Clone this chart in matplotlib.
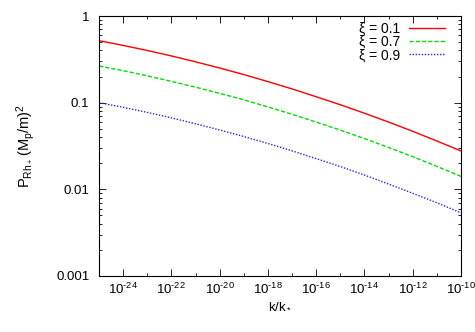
import numpy as np
import matplotlib
matplotlib.use("Agg")
import matplotlib.pyplot as plt
from matplotlib.ticker import FixedLocator, FixedFormatter, NullFormatter

plt.rcParams['font.family'] = ['Liberation Sans', 'DejaVu Sans']
plt.rcParams['mathtext.fontset'] = 'custom'
plt.rcParams['mathtext.rm'] = 'Liberation Sans'
plt.rcParams['mathtext.it'] = 'Liberation Sans'
plt.rcParams['font.size'] = 9

# k/k* sampled once per decade (1e-25 ... 1e-10)
k = [1e-25, 1e-24, 1e-23, 1e-22, 1e-21, 1e-20, 1e-19, 1e-18,
     1e-17, 1e-16, 1e-15, 1e-14, 1e-13, 1e-12, 1e-11, 1e-10]

# spectra
p_xi01 = [0.519, 0.458, 0.400, 0.346, 0.296, 0.251, 0.211, 0.175,
          0.144, 0.117, 0.0946, 0.0755, 0.0597, 0.0467, 0.0361, 0.0277]
p_xi07 = [0.265, 0.234, 0.204, 0.176, 0.151, 0.128, 0.108, 0.0893,
          0.0734, 0.0597, 0.0482, 0.0385, 0.0304, 0.0238, 0.0184, 0.0141]
p_xi09 = [0.100, 0.0884, 0.0772, 0.0668, 0.0571, 0.0484, 0.0407, 0.0338,
          0.0278, 0.0226, 0.0183, 0.0146, 0.0115, 0.0090, 0.0070, 0.00535]

labels = ['ξ = 0.1', 'ξ = 0.7', 'ξ = 0.9']

xticks = [1e-24, 1e-22, 1e-20, 1e-18, 1e-16, 1e-14, 1e-12, 1e-10]
xticklabels = [r'10$^{\text{-24}}$', r'10$^{\text{-22}}$', r'10$^{\text{-20}}$',
               r'10$^{\text{-18}}$', r'10$^{\text{-16}}$', r'10$^{\text{-14}}$',
               r'10$^{\text{-12}}$', r'10$^{\text{-10}}$']
yticks = [1e-3, 1e-2, 1e-1, 1]
yticklabels = ['0.001', '0.01', '0.1', '1']

fig = plt.figure(figsize=(4.75, 3.32), dpi=100)
ax = fig.add_axes([0.2084, 0.1687, 0.7621, 0.7831])

ax.plot(k, p_xi01, color='#ff0000', lw=1.0, label=labels[0])
ax.plot(k, p_xi07, color='#00dd00', lw=1.0, dashes=(3, 1.5), label=labels[1])
ax.plot(k, p_xi09, color='#2222ff', lw=1.0, dashes=(1, 1.2), label=labels[2])

ax.set_xscale('log')
ax.set_yscale('log')
ax.set_xlim(1e-25, 1e-10)
ax.set_ylim(1e-3, 1)

ax.xaxis.set_major_locator(FixedLocator(xticks))
ax.xaxis.set_major_formatter(FixedFormatter(xticklabels))
ax.xaxis.set_minor_locator(FixedLocator([10.0**e for e in range(-25, -9, 2)]))
ax.xaxis.set_minor_formatter(NullFormatter())

ax.yaxis.set_major_locator(FixedLocator(yticks))
ax.yaxis.set_major_formatter(FixedFormatter(yticklabels))

ax.tick_params(which='both', direction='in', top=True, right=True, labelsize=9.5)
ax.tick_params(which='major', length=5, width=0.6)
ax.tick_params(axis='x', which='major', pad=4)
ax.tick_params(axis='y', which='major', pad=7)
ax.tick_params(which='minor', length=2.5, width=0.6)
for s in ax.spines.values():
    s.set_linewidth(0.8)

ax.set_xlabel(r'k/k$_*$', fontsize=9.5, labelpad=2)
ax.set_ylabel(r'$\mathrm{P}_{\mathrm{Rh}_+}\,(\mathrm{M}_\mathrm{p}/\mathrm{m})^2$', fontsize=10.5, labelpad=14)

ax.legend(loc='upper right', bbox_to_anchor=(0.955, 0.978), frameon=False,
          markerfirst=False, fontsize=10, handlelength=2.6, labelspacing=-0.05,
          borderaxespad=0.0, borderpad=0.0, handletextpad=0.6)

fig.savefig('out.png', dpi=100)
